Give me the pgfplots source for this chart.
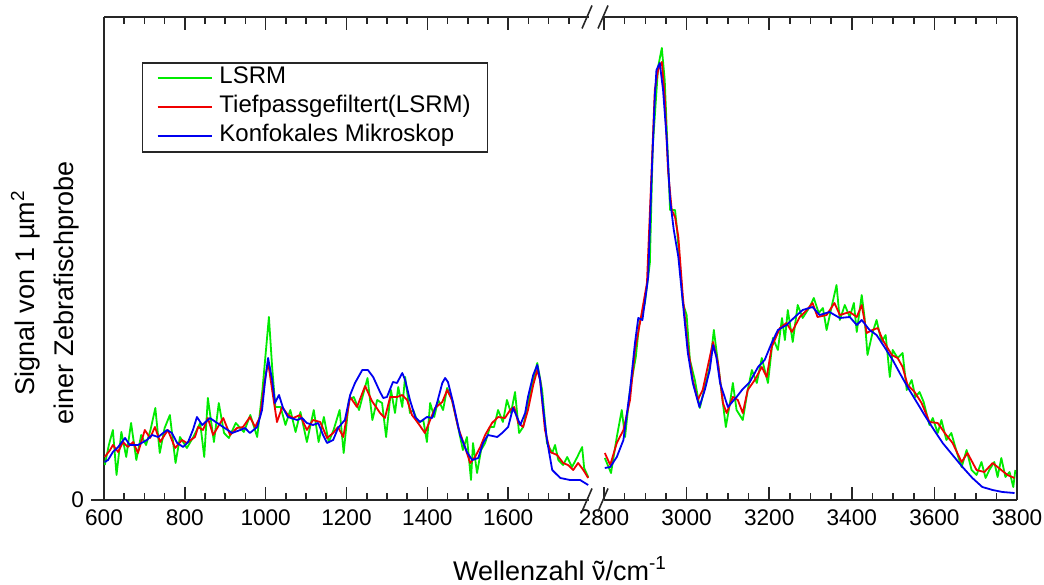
\documentclass[border=0pt]{standalone}
\usepackage{fontspec}
\setmainfont{Liberation Sans}
\usepackage{pgfplots}
\pgfplotsset{compat=1.18}

\definecolor{lsrm}{RGB}{0,235,0}
\definecolor{tief}{RGB}{240,0,0}
\definecolor{konf}{RGB}{0,0,240}

% nu mit Tilde (Wellenzahl)
\newcommand{\nutilde}{\leavevmode\setbox0\hbox{ν}\rlap{ν}\hbox to \wd0{\hss\raisebox{-0.05ex}{˜}\hss}}

% Gemeinsamer Stil der beiden Achsenteile (Achsenbruch 1800 -> 2800)
\pgfplotsset{
  brk/.style={
    scale only axis, height=241.5pt, ymin=0, ymax=483,
    axis x line*=box,
    axis line style={black!85, line width=0.8pt},
    xtick align=inside, ytick align=outside,
    major tick length=6.5pt, minor tick length=3.5pt,
    every tick/.append style={black!85, line width=0.8pt},
    tick label style={font=\fontsize{11.3}{13}\selectfont},
    /pgf/number format/assume math mode=true,
    /pgf/number format/1000 sep={},
    xticklabel style={yshift=-1.5pt},
    every axis plot/.append style={line width=0.9pt, line join=round},
  },
}

\begin{document}
\begin{tikzpicture}
\begin{axis}[brk, name=L, at={(0pt,0pt)}, anchor=south west,
  width=242.5pt, xmin=600, xmax=1800,
  xtick={600,800,...,1600}, minor xtick={650,700,...,1750},
  axis y line*=left, ytick={0},
  legend cell align=left,
  legend image code/.code={\draw[#1] (0pt,0pt) -- (27pt,0pt); \path (29pt,0pt);},
  legend style={at={(axis description cs:0.078,0.907)}, anchor=north west,
    draw=black!85, line width=0.8pt, inner xsep=7pt, inner ysep=1.5pt,
    row sep=2pt,
    nodes={inner xsep=1.5pt, inner ysep=1pt, text height=8pt, text depth=2.5pt,
      font=\fontsize{12}{13}\selectfont}},
]
% LSRM (Rohsignal)
\addplot[lsrm] coordinates {
(602,35) (612,55) (622,70) (631,25) (643,68) (655,43) (667,77) (680,40)
(692,65) (704,55) (715,70) (727,92) (738,47) (750,72) (763,85) (777,37)
(788,63) (805,52) (821,63) (838,77) (848,43) (857,102) (872,58) (884,97)
(897,67) (909,62) (926,77) (946,68) (962,85) (979,63) (992,110) (1008,183)
(1016,133) (1024,93) (1037,93) (1049,75) (1061,90) (1074,68) (1086,88)
(1102,58) (1119,90) (1131,58) (1144,83) (1156,58) (1168,70) (1183,90)
(1193,47) (1206,100) (1218,103) (1231,90) (1252,122) (1264,80) (1276,100)
(1288,97) (1298,63) (1310,110) (1320,87) (1328,113) (1338,93) (1345,123)
(1357,87) (1365,90) (1377,77) (1390,80) (1399,58) (1407,97) (1417,83)
(1427,100) (1439,90) (1449,112) (1461,100) (1476,73) (1488,50) (1498,63)
(1508,20) (1513,57) (1523,27) (1533,50) (1543,57) (1555,73) (1565,73)
(1575,90) (1587,78) (1597,100) (1607,87) (1617,108) (1627,67) (1637,73)
(1649,97) (1662,120) (1672,137) (1684,110) (1696,57) (1709,47) (1716,55)
(1724,40) (1736,35) (1746,43) (1758,33) (1771,43) (1783,53) (1788,32) (1798,23)
};
% Tiefpassgefiltert
\addplot[tief] coordinates {
(602,43) (615,50) (622,55) (635,48) (647,58) (659,53) (672,58) (684,47)
(701,70) (714,62) (726,73) (739,58) (758,70) (776,52) (793,60) (805,57)
(825,63) (833,73) (845,70) (857,82) (870,65) (895,82) (912,65) (929,72)
(944,73) (961,83) (974,73) (986,83) (998,120) (1006,138) (1016,110)
(1028,78) (1041,93) (1055,85) (1068,82) (1085,85) (1102,70) (1117,80)
(1135,78) (1152,62) (1167,67) (1179,73) (1192,63) (1209,103) (1226,93)
(1246,114) (1263,99) (1283,87) (1295,82) (1308,103) (1325,103) (1338,105)
(1350,100) (1362,85) (1377,77) (1394,67) (1407,80) (1419,92) (1437,98)
(1449,110) (1461,100) (1476,73) (1493,53) (1506,37) (1518,43) (1531,53)
(1543,65) (1560,77) (1575,83) (1592,82) (1605,90) (1615,93) (1625,77)
(1637,73) (1649,90) (1662,115) (1672,130) (1679,120) (1691,70) (1704,48)
(1721,45) (1736,37) (1748,35) (1761,30) (1773,37) (1786,30) (1798,22)
};
% Konfokales Mikroskop
\addplot[konf] coordinates {
(602,38) (610,40) (622,48) (635,53) (652,62) (664,55) (684,55) (706,60)
(719,65) (734,63) (756,70) (768,67) (781,57) (796,53) (808,58) (820,70)
(830,83) (843,75) (862,82) (880,77) (895,73) (917,67) (937,70) (949,72)
(961,67) (979,73) (991,90) (998,117) (1006,142) (1016,120) (1023,97)
(1033,105) (1043,92) (1055,83) (1078,80) (1090,82) (1102,77) (1117,75)
(1130,77) (1142,65) (1152,57) (1167,60) (1179,72) (1196,80) (1209,105)
(1221,117) (1239,130) (1253,130) (1266,123) (1283,108) (1291,102)
(1300,103) (1315,118) (1325,117) (1338,127) (1345,120) (1357,100)
(1370,83) (1382,78) (1399,83) (1412,82) (1424,97) (1437,117) (1444,122)
(1451,118) (1464,97) (1481,65) (1498,48) (1511,40) (1526,42) (1538,57)
(1550,65) (1573,63) (1585,67) (1600,73) (1612,92) (1622,83) (1630,75)
(1642,87) (1649,103) (1662,125) (1672,135) (1679,120) (1687,90) (1696,60)
(1709,30) (1729,22) (1753,20) (1778,20) (1798,15)
};
\legend{LSRM, Tiefpassgefiltert(LSRM), Konfokales Mikroskop}
\end{axis}

\begin{axis}[brk, name=R, at={(250pt,0pt)}, anchor=south west,
  width=206.5pt, xmin=2800, xmax=3800,
  xtick={2800,3000,...,3800}, minor xtick={2850,2900,...,3750},
  axis y line*=right, ytick=\empty,
]
\addplot[lsrm] coordinates {
(2802,42) (2817,27) (2831,63) (2843,90) (2851,63) (2863,110) (2877,143)
(2885,175) (2899,197) (2911,237) (2918,353) (2931,433) (2940,452) (2947,420)
(2960,290) (2972,290) (2977,270) (2991,197) (3000,185) (3008,140) (3020,120)
(3032,92) (3044,113) (3056,133) (3066,170) (3076,137) (3095,73) (3105,97)
(3112,117) (3121,90) (3136,80) (3148,110) (3158,130) (3170,117) (3182,142)
(3197,117) (3209,162) (3221,150) (3231,182) (3238,160) (3245,190) (3257,158)
(3269,195) (3281,182) (3298,193) (3308,202) (3320,187) (3330,192) (3339,170)
(3351,193) (3363,215) (3371,180) (3383,195) (3395,183) (3405,197) (3412,168)
(3424,205) (3431,182) (3438,145) (3450,167) (3460,180) (3472,158) (3482,165)
(3492,123) (3499,150) (3511,142) (3523,147) (3533,110) (3545,120) (3554,103)
(3564,108) (3574,98) (3588,75) (3596,82) (3608,67) (3617,80) (3629,60)
(3641,67) (3654,48) (3666,33) (3678,50) (3690,30) (3702,25) (3714,38)
(3724,22) (3733,30) (3745,38) (3753,23) (3762,42) (3772,23) (3782,28)
(3791,13) (3796,30)
};
\addplot[tief] coordinates {
(2802,47) (2815,35) (2831,57) (2847,70) (2863,100) (2875,150) (2887,177)
(2904,217) (2915,327) (2923,410) (2931,430) (2940,438) (2947,403) (2955,330)
(2964,290) (2972,283) (2980,263) (2991,203) (3003,153) (3015,120) (3027,100)
(3039,110) (3051,133) (3064,158) (3076,137) (3088,97) (3097,87) (3112,103)
(3124,100) (3136,87) (3148,110) (3165,120) (3182,133) (3194,123) (3206,153)
(3226,172) (3242,177) (3255,168) (3274,183) (3291,190) (3305,197) (3317,183)
(3339,185) (3358,197) (3371,185) (3395,188) (3412,183) (3424,195) (3436,167)
(3450,170) (3463,172) (3475,160) (3497,145) (3511,142) (3523,133) (3535,115)
(3552,108) (3569,97) (3588,78) (3608,77) (3625,67) (3644,57) (3666,38)
(3680,47) (3702,30) (3721,28) (3741,37) (3762,30) (3777,25) (3794,22)
};
\addplot[konf] coordinates {
(2802,32) (2815,33) (2831,43) (2847,60) (2863,110) (2875,157) (2883,182)
(2893,180) (2907,223) (2915,320) (2923,403) (2927,430) (2935,437) (2943,410)
(2952,360) (2960,300) (2969,270) (2980,243) (2991,197) (3003,147) (3015,117)
(3031,93) (3044,110) (3056,130) (3064,155) (3072,143) (3081,117) (3100,93)
(3121,103) (3136,111) (3153,118) (3173,133) (3189,140) (3206,157) (3221,170)
(3242,175) (3262,183) (3281,190) (3305,193) (3322,185) (3346,188) (3371,182)
(3395,183) (3412,175) (3424,180) (3443,170) (3460,165) (3479,153) (3499,140)
(3516,127) (3535,113) (3557,98) (3576,85) (3596,72) (3620,57) (3644,45)
(3668,33) (3692,22) (3716,13) (3741,10) (3765,8) (3794,7)
};
\end{axis}

% Bruchstriche an der x-Achse
\foreach \yy in {0pt,241.5pt} {
  \draw[black!85, line width=0.8pt] (239pt,\yy-5.75pt) -- (244pt,\yy+5.75pt);
  \draw[black!85, line width=0.8pt] (247pt,\yy-5.75pt) -- (252pt,\yy+5.75pt);
}

\node[font=\fontsize{13.5}{16}\selectfont, anchor=base] at (228pt,-40pt)
  {Wellenzahl \nutilde/cm\textsuperscript{-1}};
\node[rotate=90, align=center, font=\fontsize{13.5}{19.5}\selectfont]
  at (-29.5pt,103.5pt) {Signal von 1 µm\textsuperscript{2}\\einer Zebrafischprobe};

\pgfresetboundingbox
\path[use as bounding box] (-52pt,-42pt) rectangle (470pt,250pt);
\end{tikzpicture}
\end{document}
